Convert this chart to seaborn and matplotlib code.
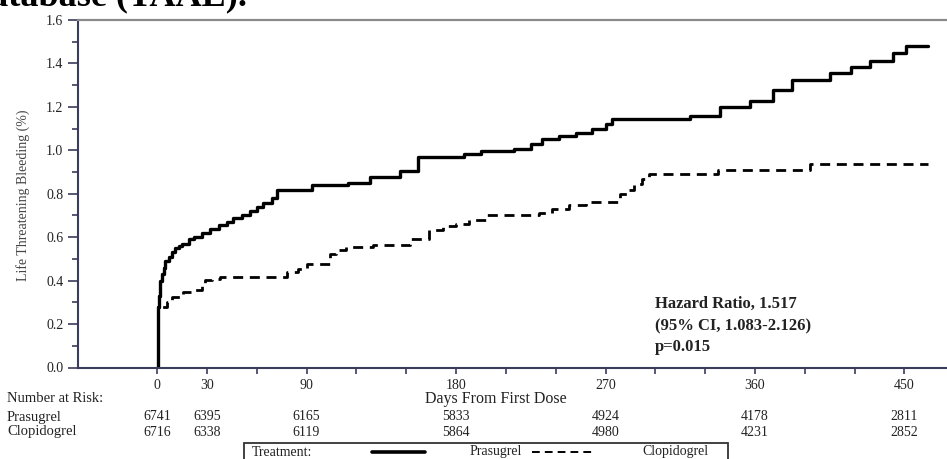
import matplotlib
matplotlib.use("Agg")
import matplotlib.pyplot as plt
import matplotlib.transforms as mtransforms
from matplotlib.lines import Line2D
from matplotlib.patches import Rectangle
from matplotlib.ticker import MultipleLocator
import pandas as pd
import seaborn as sns

# Kaplan-Meier style cumulative incidence (%) of life threatening bleeding
prasugrel_days = [0, 0.3, 0.6, 1, 1.5, 2, 3, 4, 5, 7, 9, 11, 13, 15, 19, 22, 27, 32,
                  37, 42, 46, 51, 56, 60, 64, 69, 72, 93, 115, 128, 146, 157, 185,
                  195, 215, 225, 232, 242, 252, 262, 270, 274, 321, 339, 357, 371,
                  382, 405, 418, 429, 443, 451, 464]
prasugrel_pct = [0.0, 0.15, 0.28, 0.33, 0.37, 0.40, 0.43, 0.46, 0.49, 0.51, 0.53,
                 0.55, 0.56, 0.57, 0.59, 0.60, 0.62, 0.64, 0.655, 0.67, 0.69, 0.70,
                 0.72, 0.74, 0.756, 0.78, 0.816, 0.842, 0.850, 0.877, 0.905, 0.970,
                 0.985, 0.995, 1.005, 1.03, 1.05, 1.065, 1.08, 1.10, 1.12, 1.142,
                 1.157, 1.200, 1.226, 1.277, 1.323, 1.357, 1.385, 1.412, 1.446,
                 1.481, 1.481]

clopidogrel_days = [0, 0.3, 0.7, 5.8, 8.8, 15.9, 20.9, 27, 29, 33, 38, 78, 85, 90,
                    104, 108, 114, 130, 152, 164, 172, 180, 188, 198, 230, 238, 248,
                    258, 279, 283, 287, 292, 296, 338, 393, 464]
clopidogrel_pct = [0.0, 0.20, 0.278, 0.301, 0.324, 0.347, 0.355, 0.38, 0.401, 0.409,
                   0.416, 0.439, 0.455, 0.478, 0.524, 0.539, 0.555, 0.562, 0.593,
                   0.632, 0.65, 0.66, 0.68, 0.70, 0.71, 0.73, 0.75, 0.762, 0.80,
                   0.816, 0.844, 0.87, 0.89, 0.908, 0.936, 0.936]

# Number at risk table
risk_days = [0, 30, 90, 180, 270, 360, 450]
prasugrel_at_risk = [6741, 6395, 6165, 5833, 4924, 4178, 2811]
clopidogrel_at_risk = [6716, 6338, 6119, 5864, 4980, 4231, 2852]

xtick_days = list(range(0, 451, 30))
xtick_labels = ["0", "30", "", "90", "", "", "180", "", "", "270", "", "", "360",
                "", "", "450"]
ytick_values = [0.0, 0.2, 0.4, 0.6, 0.8, 1.0, 1.2, 1.4, 1.6]

hazard_lines = ["Hazard Ratio, 1.517", "(95% CI, 1.083-2.126)", "p=0.015"]

sns.set_theme(style="ticks")
plt.rcParams["font.family"] = ["Liberation Serif", "DejaVu Serif"]

W, H = 947, 459
TEXT = "#222222"
SPINE = "#3b3b5b"


def fx(px):
    return px / W


def fy(py):
    return 1 - py / H


fig = plt.figure(figsize=(W / 100, H / 100), dpi=100)
ax = fig.add_axes([fx(78), fy(367.5), fx(W - 78), (367.5 - 20) / H])

df_p = pd.DataFrame({"day": prasugrel_days, "pct": prasugrel_pct})
df_c = pd.DataFrame({"day": clopidogrel_days, "pct": clopidogrel_pct})

sns.lineplot(data=df_c, x="day", y="pct", estimator=None, drawstyle="steps-post",
             color="black", linewidth=2.0, ax=ax)
clop_line = ax.lines[-1]
clop_line.set_linestyle((0, (3.6, 2.4)))
sns.lineplot(data=df_p, x="day", y="pct", estimator=None, drawstyle="steps-post",
             color="black", linewidth=2.4, ax=ax)

ax.set_xlim(-47.6, 475.6)
ax.set_ylim(0, 1.6)
ax.set_xlabel("")
ax.set_ylabel("")

ax.set_xticks(xtick_days)
ax.set_xticklabels(xtick_labels)
ax.set_yticks(ytick_values)
ax.set_yticklabels([f"{v:.1f}" for v in ytick_values])
ax.yaxis.set_minor_locator(MultipleLocator(0.1))

ax.tick_params(axis="x", direction="out", length=4.5, width=1.2, color=SPINE,
               labelsize=10, labelcolor=TEXT, pad=4)
ax.tick_params(axis="y", which="major", direction="out", length=7, width=1.2,
               color=SPINE, labelsize=10, labelcolor=TEXT, pad=3.5)
ax.tick_params(axis="y", which="minor", direction="out", length=4, width=1.2,
               color=SPINE)

for side in ("left", "bottom"):
    ax.spines[side].set_color(SPINE)
    ax.spines[side].set_linewidth(1.5)
ax.spines["top"].set_color("#8a8a8a")
ax.spines["top"].set_linewidth(1.6)
ax.spines["right"].set_visible(False)

# Axis titles
fig.text(fx(23), fy(195), "Life Threatening Bleeding (%)", rotation=90,
         ha="center", va="center", size=10, color="#444444")
fig.text(fx(496), fy(399), "Days From First Dose", ha="center", va="center",
         size=11.5, color=TEXT)

# Hazard ratio annotation
for text, py in zip(hazard_lines, [304, 326, 347]):
    fig.text(fx(655), fy(py), text, ha="left", va="center", size=12,
             weight="bold", color=TEXT)

# Number at risk rows
row_trans = mtransforms.blended_transform_factory(ax.transData, fig.transFigure)
fig.text(fx(7), fy(399), "Number at Risk:", ha="left", va="center", size=10.5,
         color=TEXT)
fig.text(fx(7), fy(417), "Prasugrel", ha="left", va="center", size=10.5,
         color=TEXT)
fig.text(fx(7), fy(432), "Clopidogrel", ha="left", va="center", size=10.5,
         color=TEXT)
for d, n_p, n_c in zip(risk_days, prasugrel_at_risk, clopidogrel_at_risk):
    ax.text(d, fy(417), str(n_p), transform=row_trans, ha="center", va="center",
            size=10, color=TEXT, clip_on=False)
    ax.text(d, fy(432), str(n_c), transform=row_trans, ha="center", va="center",
            size=10, color=TEXT, clip_on=False)

# Treatment key
fig.add_artist(Rectangle((fx(243.5), fy(475)), fx(728 - 243.5), (475 - 443) / H,
                         transform=fig.transFigure, fill=False, ec="#333333",
                         lw=1.3))
fig.text(fx(252), fy(452), "Treatment:", ha="left", va="center", size=10,
         color=TEXT)
fig.add_artist(Line2D([fx(372), fx(425)], [fy(452), fy(452)],
                      transform=fig.transFigure, color="black", lw=2.6))
fig.text(fx(470), fy(452), "Prasugrel", ha="left", va="center", size=10,
         color=TEXT)
fig.add_artist(Line2D([fx(532), fx(593)], [fy(452), fy(452)],
                      transform=fig.transFigure, color="black", lw=1.4,
                      linestyle=(0, (4, 2.6))))
fig.text(fx(642), fy(452), "Clopidogrel", ha="left", va="center", size=10,
         color=TEXT)

# Heading running off the top edge
fig.text(fx(247), fy(5), "database (TAAE).", ha="right", va="baseline",
         size=26, weight="bold", color="black")

fig.savefig("out.png", dpi=100)
